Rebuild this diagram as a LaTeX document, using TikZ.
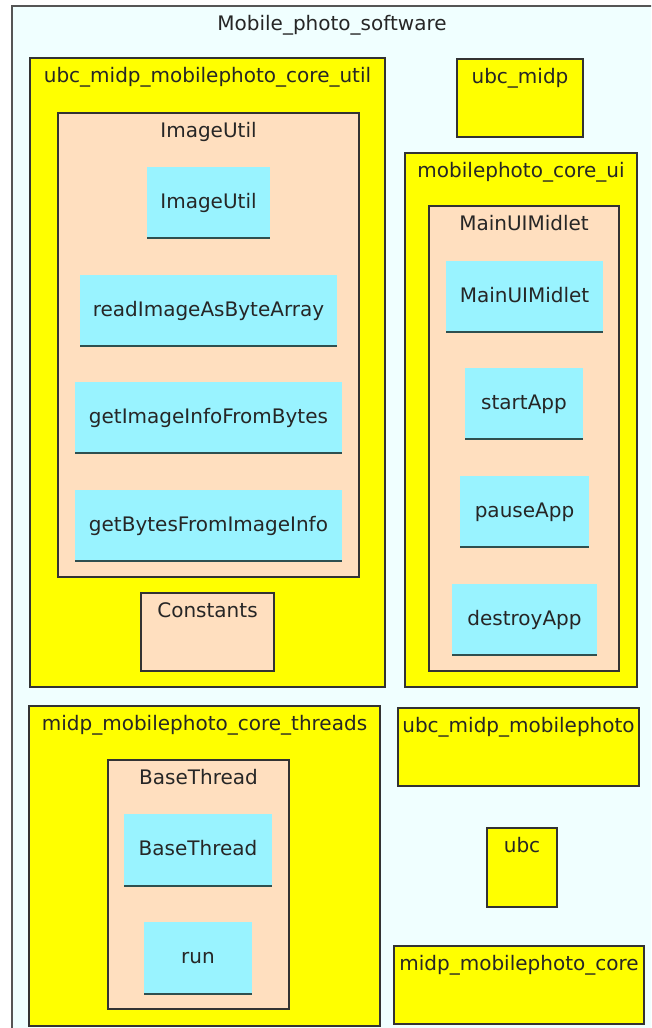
\documentclass[tikz,border=0pt]{standalone}
\usepackage{fontspec}
\setmainfont{DejaVu Sans}
\definecolor{frameBg}{RGB}{240,255,255}
\definecolor{frameLine}{RGB}{85,85,85}
\definecolor{pkgYellow}{RGB}{255,255,0}
\definecolor{classPeach}{RGB}{255,223,191}
\definecolor{methCyan}{RGB}{153,243,255}
\definecolor{methLine}{RGB}{47,79,79}
\definecolor{edgeGray}{RGB}{51,51,51}

\begin{document}
\begin{tikzpicture}[
		x=1pt, y=-1pt,
		font=\fontsize{20}{24}\selectfont,
		every node/.style = {
			inner sep=0pt,
			outer sep=0pt,
			text height=11pt,
			text depth=0pt
		},
		pkg/.style = {
			draw=edgeGray,
			line width=1.5pt,
			fill=pkgYellow
		},
		cls/.style = {
			draw=edgeGray,
			line width=1.5pt,
			fill=classPeach
		},
		meth/.style = {
			fill=methCyan,
			minimum height=71pt,
			text=black!85
		},
		uline/.style = {
			methLine,
			line width=2pt
		},
		lbl/.style = {
			text=black!85
		}
	]

	\useasboundingbox (0,0) rectangle (651,1028);
	\clip (0,0) rectangle (651,1028);
	\fill[white] (0,0) rectangle (651,1028);

	% outer frame, cut off at right and bottom
	\draw[frameLine, line width=2pt, fill=frameBg] (12,6) rectangle (670,1045);
	\node[lbl] (title) at (332,25) {Mobile\_photo\_software};

	% ubc_midp_mobilephoto_core_util
	\node[pkg, minimum width=355pt, minimum height=629pt] (coreutil) at (207.5,372.5) {};
	\node[lbl] (coreutilT) at (207.5,77) {ubc\_midp\_mobilephoto\_core\_util};

	\node[cls, minimum width=301pt, minimum height=464pt] (imgutil) at (208.5,345) {};
	\node[lbl] (imgutilT) at (208.5,132) {ImageUtil};

	\node[meth, minimum width=123pt] (mImg) at (208.5,202.5) {ImageUtil};
	\node[meth, minimum width=257pt] (mRead) at (208.5,310.5) {readImageAsByteArray};
	\node[meth, minimum width=267pt] (mInfo) at (208.5,417.5) {getImageInfoFromBytes};
	\node[meth, minimum width=267pt] (mBytes) at (208.5,525.5) {getBytesFromImageInfo};

	\node[cls, minimum width=133pt, minimum height=78pt] (consts) at (207.5,632) {};
	\node[lbl] (constsT) at (207.5,612) {Constants};

	% ubc_midp
	\node[pkg, minimum width=126pt, minimum height=78pt] (ubcmidp) at (520,98) {};
	\node[lbl] (ubcmidpT) at (520,78) {ubc\_midp};

	% mobilephoto_core_ui
	\node[pkg, minimum width=232pt, minimum height=534pt] (coreui) at (521,420) {};
	\node[lbl] (coreuiT) at (521,172) {mobilephoto\_core\_ui};

	\node[cls, minimum width=190pt, minimum height=465pt] (midlet) at (524,438.5) {};
	\node[lbl] (midletT) at (524,225) {MainUIMidlet};

	\node[meth, minimum width=157pt] (mMidlet) at (524.5,296.5) {MainUIMidlet};
	\node[meth, minimum width=118pt] (mStart) at (524,403.5) {startApp};
	\node[meth, minimum width=129pt] (mPause) at (524.5,511.5) {pauseApp};
	\node[meth, minimum width=145pt] (mDestroy) at (524.5,619.5) {destroyApp};

	% midp_mobilephoto_core_threads
	\node[pkg, minimum width=351pt, minimum height=320pt] (threads) at (204.5,866) {};
	\node[lbl] (threadsT) at (204.5,725) {midp\_mobilephoto\_core\_threads};

	\node[cls, minimum width=181pt, minimum height=249pt] (bthread) at (198.5,884.5) {};
	\node[lbl] (bthreadT) at (198.5,779) {BaseThread};

	\node[meth, minimum width=148pt, minimum height=72pt] (mBase) at (198,850) {BaseThread};
	\node[meth, minimum width=108pt, minimum height=72pt] (mRun) at (198,958) {run};

	% the small packages on the right
	\node[pkg, minimum width=241pt, minimum height=78pt] (mobphoto) at (518.5,747) {};
	\node[lbl] (mobphotoT) at (518.5,727) {ubc\_midp\_mobilephoto};

	\node[pkg, minimum width=70pt, minimum height=79pt] (ubc) at (522,867.5) {};
	\node[lbl] (ubcT) at (522,847) {ubc};

	\node[pkg, minimum width=250pt, minimum height=78pt] (mpcore) at (519,985) {};
	\node[lbl] (mpcoreT) at (519,965) {midp\_mobilephoto\_core};

	% dark bottom edge of every method box
	\foreach \m in {mImg,mRead,mInfo,mBytes,mMidlet,mStart,mPause,mDestroy,mBase,mRun}
		\draw[uline] (\m.south west) -- (\m.south east);
\end{tikzpicture}
\end{document}
